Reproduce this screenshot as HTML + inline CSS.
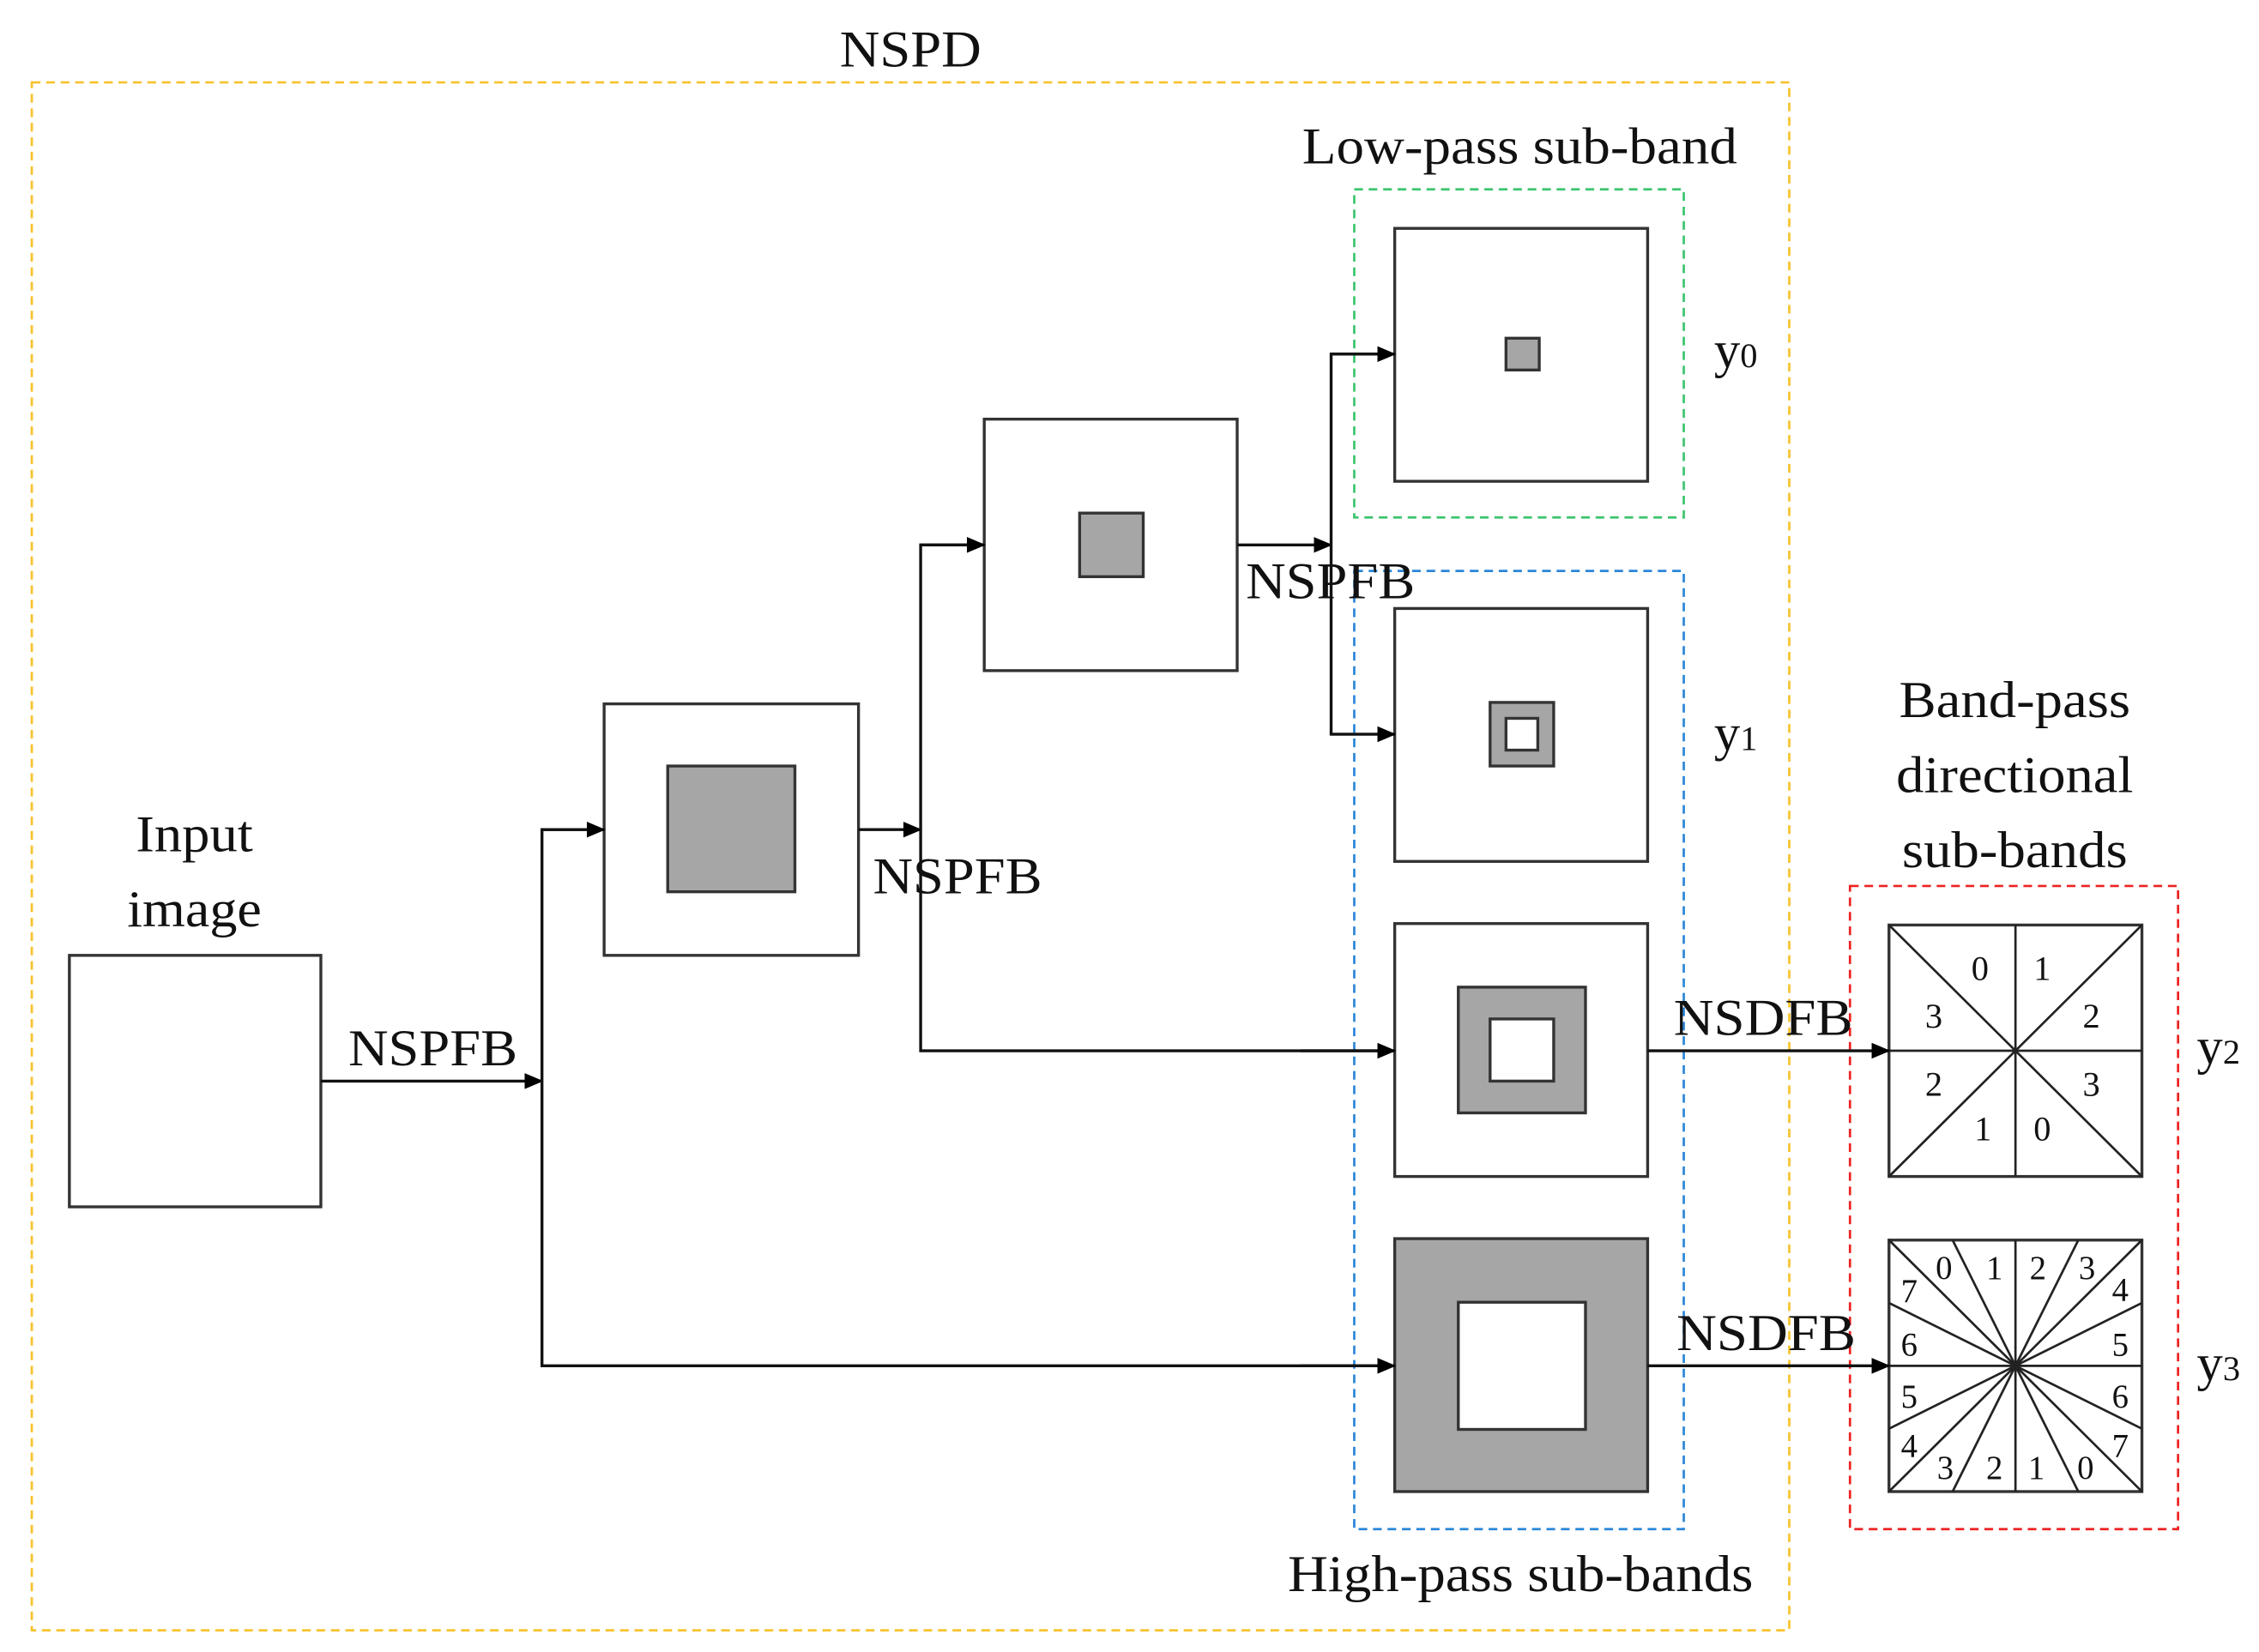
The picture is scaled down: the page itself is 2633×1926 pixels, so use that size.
<!DOCTYPE html>
<html><head><meta charset="utf-8"><style>
html,body{margin:0;padding:0;background:#fff;}
svg{display:block;}
text{font-family:"Liberation Serif","DejaVu Serif",serif;fill:#111;}
</style></head><body>
<svg width="2633" height="1926" viewBox="0 0 1563 1143" preserveAspectRatio="none" xmlns="http://www.w3.org/2000/svg">
<defs>
<marker id="a" markerWidth="13" markerHeight="11" refX="12" refY="5.5" orient="auto" markerUnits="userSpaceOnUse">
<path d="M0,0 L13,5.5 L0,11 Z" fill="#000"/></marker>
</defs>
<rect x="22" y="57" width="1216" height="1071" fill="none" stroke="#f7c22b" stroke-width="1.6" stroke-dasharray="6,4"/>
<rect x="937" y="131" width="228" height="227" fill="none" stroke="#3cc46e" stroke-width="1.6" stroke-dasharray="6,4"/>
<rect x="937" y="395" width="228" height="663" fill="none" stroke="#2a86d8" stroke-width="1.6" stroke-dasharray="6,4"/>
<rect x="1280" y="613" width="227" height="445" fill="none" stroke="#ee2222" stroke-width="1.6" stroke-dasharray="6,4"/>

<g font-size="36" font-family="Liberation Serif, serif">
<text x="581" y="46" textLength="98" lengthAdjust="spacingAndGlyphs">NSPD</text>
<text x="901" y="113" textLength="301" lengthAdjust="spacingAndGlyphs">Low-pass sub-band</text>
<text x="891" y="1101" textLength="322" lengthAdjust="spacingAndGlyphs">High-pass sub-bands</text>
<text x="1314" y="496" textLength="160" lengthAdjust="spacingAndGlyphs">Band-pass</text>
<text x="1312" y="548" textLength="164" lengthAdjust="spacingAndGlyphs">directional</text>
<text x="1316" y="600" textLength="156" lengthAdjust="spacingAndGlyphs">sub-bands</text>
<text x="94" y="589" textLength="81" lengthAdjust="spacingAndGlyphs">Input</text>
<text x="88" y="641" textLength="93" lengthAdjust="spacingAndGlyphs">image</text>
<text x="241" y="737" textLength="117" lengthAdjust="spacingAndGlyphs">NSPFB</text>
<text x="604" y="618" textLength="117" lengthAdjust="spacingAndGlyphs">NSPFB</text>
<text x="862" y="414" textLength="117" lengthAdjust="spacingAndGlyphs">NSPFB</text>
<text x="1158" y="716" textLength="124" lengthAdjust="spacingAndGlyphs">NSDFB</text>
<text x="1160" y="934" textLength="124" lengthAdjust="spacingAndGlyphs">NSDFB</text>
<text x="1186" y="254">y<tspan font-size="24">0</tspan></text>
<text x="1186" y="519">y<tspan font-size="24">1</tspan></text>
<text x="1520" y="736">y<tspan font-size="24">2</tspan></text>
<text x="1520" y="955">y<tspan font-size="24">3</tspan></text>
</g>

<g stroke="#333" stroke-width="2" fill="#fff">
<rect x="48" y="661" width="174" height="174"/>
<rect x="418" y="487" width="176" height="174"/>
<rect x="462" y="530" width="88" height="87" fill="#a6a6a6"/>
<rect x="681" y="290" width="175" height="174"/>
<rect x="747" y="355" width="44" height="44" fill="#a6a6a6"/>
<rect x="965" y="158" width="175" height="175"/>
<rect x="1042" y="234" width="23" height="22" fill="#a6a6a6"/>
<rect x="965" y="421" width="175" height="175"/>
<rect x="1031" y="486" width="44" height="44" fill="#a6a6a6"/>
<rect x="1042" y="497" width="22" height="22"/>
<rect x="965" y="639" width="175" height="175"/>
<rect x="1009" y="683" width="88" height="87" fill="#a6a6a6"/>
<rect x="1031" y="705" width="44" height="43"/>
<rect x="965" y="857" width="175" height="175" fill="#a6a6a6"/>
<rect x="1009" y="901" width="88" height="88"/>
<rect x="1307" y="640" width="175" height="174"/>
<rect x="1307" y="858" width="175" height="174"/>
</g>

<g stroke="#222" stroke-width="1.6">
<line x1="1394.5" y1="640" x2="1394.5" y2="814"/>
<line x1="1307" y1="727" x2="1482" y2="727"/>
<line x1="1307" y1="640" x2="1482" y2="814"/>
<line x1="1482" y1="640" x2="1307" y2="814"/>
<line x1="1394.5" y1="858" x2="1394.5" y2="1032"/>
<line x1="1307" y1="945" x2="1482" y2="945"/>
<line x1="1307" y1="858" x2="1482" y2="1032"/>
<line x1="1482" y1="858" x2="1307" y2="1032"/>
<line x1="1351" y1="858" x2="1438" y2="1032"/>
<line x1="1438" y1="858" x2="1351" y2="1032"/>
<line x1="1307" y1="901.5" x2="1482" y2="988.5"/>
<line x1="1307" y1="988.5" x2="1482" y2="901.5"/>
</g>
<g font-size="24" text-anchor="middle">
<text x="1370" y="678">0</text><text x="1413" y="678">1</text>
<text x="1338" y="711">3</text><text x="1447" y="711">2</text>
<text x="1338" y="758">2</text><text x="1447" y="758">3</text>
<text x="1372" y="789">1</text><text x="1413" y="789">0</text>
</g>
<g font-size="23" text-anchor="middle">
<text x="1345" y="885">0</text><text x="1380" y="885">1</text><text x="1410" y="885">2</text><text x="1444" y="885">3</text>
<text x="1467" y="900">4</text><text x="1321" y="901">7</text>
<text x="1321" y="938">6</text><text x="1467" y="938">5</text>
<text x="1321" y="974">5</text><text x="1467" y="974">6</text>
<text x="1321" y="1008">4</text><text x="1467" y="1008">7</text>
<text x="1346" y="1023">3</text><text x="1380" y="1023">2</text><text x="1409" y="1023">1</text><text x="1443" y="1023">0</text>
</g>

<g stroke="#111" stroke-width="2" fill="none">
<line x1="222" y1="748" x2="375" y2="748" marker-end="url(#a)"/>
<polyline points="418,574 375,574 375,945 965,945" />
<line x1="375" y1="574" x2="418" y2="574" marker-end="url(#a)"/>
<line x1="900" y1="945" x2="965" y2="945" marker-end="url(#a)"/>
<line x1="594" y1="574" x2="637" y2="574" marker-end="url(#a)"/>
<polyline points="681,377 637,377 637,727 965,727"/>
<line x1="637" y1="377" x2="681" y2="377" marker-end="url(#a)"/>
<line x1="900" y1="727" x2="965" y2="727" marker-end="url(#a)"/>
<line x1="856" y1="377" x2="921" y2="377" marker-end="url(#a)"/>
<polyline points="965,245 921,245 921,508 965,508"/>
<line x1="921" y1="245" x2="965" y2="245" marker-end="url(#a)"/>
<line x1="921" y1="508" x2="965" y2="508" marker-end="url(#a)"/>
<line x1="1140" y1="727" x2="1307" y2="727" marker-end="url(#a)"/>
<line x1="1140" y1="945" x2="1307" y2="945" marker-end="url(#a)"/>
</g>
</svg>
</body></html>
